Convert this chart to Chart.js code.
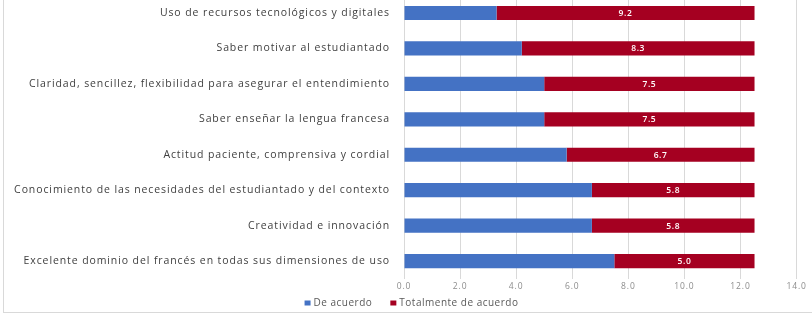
<!DOCTYPE html>
<html>
<head>
<meta charset="utf-8">
<script src="https://cdn.jsdelivr.net/npm/chart.js@4/dist/chart.umd.min.js"></script>
<style>
  html, body { margin: 0; padding: 0; background: #fff; }
  #stage { position: relative; width: 812px; height: 317px; overflow: hidden; }
  #frame { position: absolute; left: 3px; top: -10px; width: 830px; height: 321px; border: 1px solid #d9d9d9; }
  #box { position: absolute; left: 4px; top: -11px; width: 804px; height: 321px; }
</style>
</head>
<body>
<div id="stage">
  <div id="frame"></div>
  <div id="box"><canvas id="grafico"></canvas></div>
</div>
<script>
const categorias = [
  'Uso de recursos tecnológicos y digitales',
  'Saber motivar al estudiantado',
  'Claridad, sencillez, flexibilidad para asegurar el entendimiento',
  'Saber enseñar la lengua francesa',
  'Actitud paciente, comprensiva y cordial',
  'Conocimiento de las necesidades del estudiantado y del contexto',
  'Creatividad e innovación',
  'Excelente dominio del francés en todas sus dimensiones de uso'
];
const deAcuerdo = [3.3, 4.2, 5.0, 5.0, 5.8, 6.7, 6.7, 7.5];
const totalmente = [9.2, 8.3, 7.5, 7.5, 6.7, 5.8, 5.8, 5.0];
const ticksX = [0, 2, 4, 6, 8, 10, 12, 14];

// texto un poco espaciado, como en el original
const espaciado = {
  id: 'espaciado',
  beforeDraw(chart) { chart.ctx.letterSpacing = '0.9px'; }
};

// etiquetas blancas dentro de la barra roja
const etiquetas = {
  id: 'etiquetas',
  afterDatasetsDraw(chart) {
    const ctx = chart.ctx;
    const meta = chart.getDatasetMeta(1);
    ctx.save();
    ctx.letterSpacing = '0.6px';
    ctx.fillStyle = '#ffffff';
    ctx.font = '600 8.5px "Open Sans"';
    ctx.textAlign = 'center';
    ctx.textBaseline = 'middle';
    meta.data.forEach((bar, i) => {
      const p = bar.getProps(['x', 'y', 'base'], true);
      ctx.fillText(totalmente[i].toFixed(1), (p.x + p.base) / 2, p.y + 0.5);
    });
    ctx.restore();
  }
};

// leyenda dibujada a mano para controlar el espaciado
const leyenda = {
  id: 'leyenda',
  afterDraw(chart) {
    const ctx = chart.ctx;
    const sets = chart.data.datasets;
    ctx.save();
    ctx.letterSpacing = '0.5px';
    ctx.font = '10px "Open Sans"';
    ctx.textBaseline = 'middle';
    ctx.textAlign = 'left';
    const caja = 6, hueco = 3, sep = 18;
    const anchos = sets.map(d => caja + hueco + ctx.measureText(d.label).width);
    const total = anchos.reduce((a, b) => a + b, 0) + sep * (sets.length - 1);
    let x = 407.5 - total / 2;
    const y = 314;
    sets.forEach((d, i) => {
      ctx.fillStyle = d.backgroundColor;
      ctx.fillRect(x, y - 2.5, caja, 5);
      ctx.fillStyle = '#595959';
      ctx.fillText(d.label, x + caja + hueco, y);
      x += anchos[i] + sep;
    });
    ctx.restore();
  }
};

let grafico = document.getElementById('grafico');

const datos = {
  labels: categorias,
  datasets: [
    {
      label: 'De acuerdo',
      data: deAcuerdo,
      backgroundColor: '#4472C4',
      barPercentage: 0.4,
      categoryPercentage: 1
    },
    {
      label: 'Totalmente de acuerdo',
      data: totalmente,
      backgroundColor: '#A50021',
      barPercentage: 0.4,
      categoryPercentage: 1
    }
  ]
};

const config = {
  type: 'bar',
  data: datos,
  options: {
    indexAxis: 'y',
    responsive: true,
    maintainAspectRatio: false,
    animation: false,
    layout: { padding: { top: 0, right: 0, bottom: 15, left: 0 } },
    scales: {
      x: {
        stacked: true,
        min: 0,
        max: 14,
        afterBuildTicks: (s) => { s.ticks = ticksX.map(v => ({ value: v })); },
        grid: { color: '#d9d9d9', drawTicks: false },
        border: { display: false },
        ticks: {
          padding: 3,
          color: '#8c8c8c',
          font: { family: '"Open Sans"', size: 8.5 },
          callback: (v) => Number(v).toFixed(1)
        }
      },
      y: {
        stacked: true,
        afterFit: (s) => { s.width = 400; },
        grid: { color: 'rgba(0,0,0,0)', drawTicks: true, tickLength: 14 },
        border: { display: false },
        ticks: {
          padding: 0,
          color: '#404040',
          font: { family: '"Open Sans"', size: 10.5 }
        }
      }
    },
    plugins: {
      legend: { display: false },
      tooltip: { enabled: false }
    }
  },
  plugins: [espaciado, etiquetas, leyenda]
};

new Chart(grafico, config);
</script>
</body>
</html>
